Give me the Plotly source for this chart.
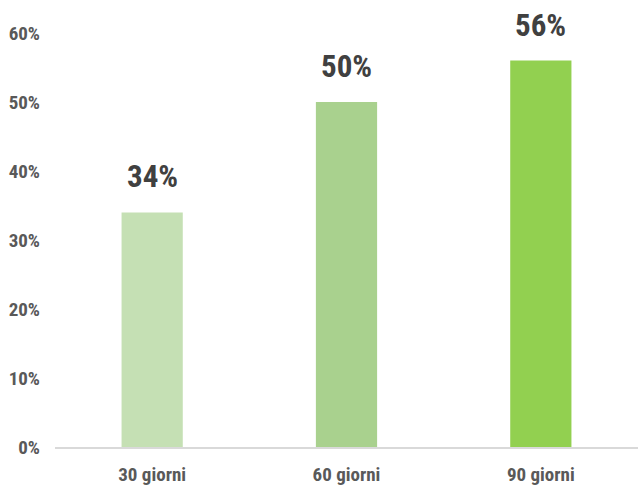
import plotly.graph_objects as go

categories = ["30 giorni", "60 giorni", "90 giorni"]
values = [0.34, 0.50, 0.56]
value_labels = ["34%", "50%", "56%"]
bar_colors = ["#C5E0B4", "#A9D18E", "#92D050"]
tick_vals = [0, 0.1, 0.2, 0.3, 0.4, 0.5, 0.6]
tick_text = ["0%", "10%", "20%", "30%", "40%", "50%", "60%"]

NARROW = "Liberation Sans Narrow, Arial Narrow, Roboto Condensed, sans-serif"

fig = go.Figure()
fig.add_trace(go.Bar(
    x=categories, y=values,
    marker=dict(color=bar_colors, line=dict(width=0)),
    width=0.315,
    hoverinfo="skip",
))

for c, v, t in zip(categories, values, value_labels):
    fig.add_annotation(
        x=c, y=v, text=t, showarrow=False,
        yanchor="bottom", yshift=15,
        font=dict(family=NARROW, size=31, color="#404040", weight="bold"),
    )

fig.update_layout(
    width=639, height=489,
    margin=dict(l=55, r=1, t=33, b=42),
    plot_bgcolor="white", paper_bgcolor="white",
    showlegend=False,
    bargap=0.685,
)
fig.update_xaxes(
    showline=True, linecolor="#D9D9D9", linewidth=1.5,
    showgrid=False, ticks="",
    tickfont=dict(family=NARROW, size=19, color="#595959", weight="bold"),
    ticklabelstandoff=9,
)
fig.update_yaxes(
    range=[0, 0.6], tickvals=tick_vals, ticktext=tick_text,
    showgrid=False, zeroline=False, showline=False, ticks="",
    tickfont=dict(family=NARROW, size=19, color="#595959", weight="bold"),
    ticklabelstandoff=14,
)

fig.write_html("out.html")
